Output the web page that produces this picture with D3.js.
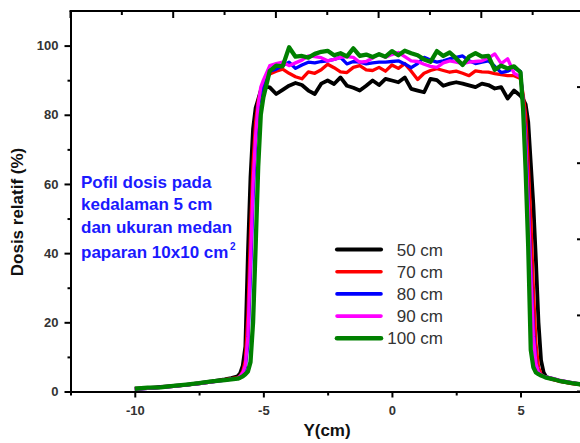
<!doctype html>
<html lang="en">
  <head>
    <meta charset="UTF-8" />
    <title>Profil dosis</title>
    <style>
      body { margin: 0; background: #fff; }
      svg { display: block; font-family: Arial, "Liberation Sans", sans-serif; }
    </style>
  </head>
  <body>
    <div id="target"></div>
    <script src="https://d3js.org/d3.v7.min.js"></script>
    <script>
      /* global d3 */

      // posisi Y (cm), shared by every curve
      const pos = [
        -10, -9.5, -9, -8.5, -8, -7.5, -7, -6.5, -6.25,
        -6, -5.9, -5.8, -5.7, -5.6, -5.5, -5.4, -5.3, -5.2, -5.1, -5,
        -4.75, -4.5, -4.25, -4, -3.75, -3.5, -3.25, -3, -2.75, -2.5, -2.25, -2, -1.75,
        -1.5, -1.25, -1, -0.75, -0.5, -0.25, 0, 0.25, 0.5, 0.75, 1, 1.25, 1.5, 1.75,
        2, 2.25, 2.5, 2.75, 3, 3.25, 3.5, 3.75, 4, 4.25, 4.5, 4.75,
        5, 5.1, 5.2, 5.3, 5.4, 5.5, 5.6, 5.7, 5.8, 5.9, 6,
        6.25, 6.5, 7, 7.5
      ];

      const ssd50 = [
        0.8, 1.0, 1.3, 1.6, 1.9, 2.4, 2.9, 3.5, 3.9,
        4.4, 5.3, 7.5, 13, 40, 62, 76, 82, 84.5, 87, 88.2,
        87.9, 86.0, 87.2, 88.4, 89.2, 88.6, 87.0, 86.0, 89.0, 89.9, 88.9, 90.8, 88.4,
        87.8, 87.0, 88.4, 89.9, 88.6, 90.4, 89.9, 89.4, 90.8, 87.5, 87.0, 86.5, 90.4, 90.0,
        88.4, 89.0, 89.4, 89.0, 88.5, 88.0, 89.0, 88.6, 87.6, 88.0, 84.7, 87.0,
        85.5, 84.5, 83, 78, 66, 54, 38, 20, 9, 5.5, 4.2,
        3.6, 3.1, 2.4, 1.9
      ];
      const ssd70 = [
        0.8, 1.0, 1.2, 1.5, 1.9, 2.3, 2.8, 3.4, 3.7,
        4.0, 4.6, 5.8, 9, 22, 46, 66, 78, 84, 87, 89,
        91.8, 92.6, 93.2, 92.0, 91.0, 90.4, 92.4, 92.0, 93.0, 94.6, 93.6, 92.4, 92.2,
        93.7, 94.2, 93.0, 92.8, 93.7, 92.6, 94.4, 93.4, 94.8, 92.6, 90.2, 92.0, 92.8, 93.3,
        92.8, 92.3, 92.6, 92.0, 91.3, 92.7, 92.4, 92.3, 91.9, 91.6, 91.3, 91.3,
        90.5, 86, 80, 66, 50, 30, 14, 7, 5, 4.4, 4.1,
        3.5, 3.0, 2.3, 1.8
      ];
      const ssd80 = [
        0.7, 0.9, 1.2, 1.5, 1.9, 2.3, 2.8, 3.3, 3.6,
        3.8, 4.3, 5.2, 7, 14, 34, 56, 72, 82, 86, 89,
        92.6, 93.2, 94.2, 95.2, 93.4, 94.4, 95.2, 95.0, 95.4, 95.6, 96.0, 96.6, 94.7,
        95.4, 95.2, 94.7, 95.0, 95.2, 95.2, 95.4, 95.6, 94.7, 93.6, 94.8, 96.6, 95.8, 95.2,
        95.6, 96.2, 96.6, 97.0, 95.6, 94.8, 95.2, 95.6, 94.0, 92.2, 92.6, 93.6,
        92.5, 84, 74, 56, 36, 18, 8, 5.5, 4.8, 4.4, 4.2,
        3.7, 3.2, 2.5, 1.9
      ];
      const ssd90 = [
        0.7, 0.9, 1.2, 1.5, 1.9, 2.3, 2.8, 3.3, 3.6,
        3.8, 4.4, 5.4, 7.5, 16, 38, 60, 74, 83, 88, 90,
        94.2, 94.8, 95.2, 94.2, 95.0, 95.8, 97.0, 96.8, 96.5, 95.6, 96.0, 96.6, 96.8,
        96.6, 95.2, 95.4, 96.4, 97.6, 96.6, 97.4, 98.0, 96.8, 95.6, 95.4, 94.6, 94.0, 93.7,
        95.0, 95.6, 95.2, 94.8, 95.2, 95.4, 95.6, 96.4, 97.6, 94.8, 96.2, 92.0,
        91, 84, 72, 54, 34, 16, 8, 5.6, 4.8, 4.4, 4.2,
        3.8, 3.3, 2.6, 2.0
      ];
      const ssd100 = [
        0.8, 1.1, 1.2, 1.6, 2.0, 2.4, 2.9, 3.3, 3.5,
        3.7, 4.0, 4.4, 5.0, 5.8, 8.5, 20, 42, 65, 80, 85,
        92.7, 94.2, 94.0, 99.5, 96.8, 97.0, 96.5, 97.6, 98.2, 98.5, 97.2, 97.8, 96.9,
        99.2, 97.0, 97.4, 96.7, 97.5, 96.8, 98.4, 97.2, 98.5, 97.8, 97.2, 96.0, 95.3, 98.4,
        97.0, 98.0, 96.3, 94.4, 96.8, 97.8, 96.8, 97.0, 93.0, 94.2, 93.4, 94.0,
        92.3, 82, 64, 42, 12, 7, 5.5, 5.0, 4.6, 4.3, 4.0,
        3.6, 3.1, 2.4, 1.9
      ];

      const seriesNames = ["50 cm", "70 cm", "80 cm", "90 cm", "100 cm"];
      const seriesValues = [ssd50, ssd70, ssd80, ssd90, ssd100];
      const seriesColors = ["#000000", "#ff0000", "#0000ff", "#ff00ff", "#008000"];
      const seriesWidths = [3.8, 3.3, 3.3, 3.3, 4.3];

      const xMajor = [-10, -5, 0, 5];
      const xMinor = [-12.5, -7.5, -2.5, 2.5];
      const yMajor = [0, 20, 40, 60, 80, 100];
      const yMinor = [10, 30, 50, 70, 90];
      const noteLines = ["Pofil dosis pada", "kedalaman 5 cm", "dan ukuran medan", "paparan 10x10 cm"];

      const width = 580,
        height = 443;
      const plot = { left: 70.5, right: 584, top: 11, bottom: 391.5 };

      const svg = d3
        .select("#target")
        .append("svg")
        .attr("width", width)
        .attr("height", height)
        .attr("viewBox", [0, 0, width, height]);

      const x = d3.scaleLinear().domain([-12.5, 7.47]).range([plot.left, plot.right]);
      const y = d3.scaleLinear().domain([0, 110]).range([plot.bottom, plot.top]);
      // the mirrored top/right frame belongs to a neighbouring panel, different spacing
      const xTop = d3.scaleLinear().domain([0, 5]).range([plot.left, plot.right]);
      const yRight = d3.scaleLinear().domain([0, 5]).range([plot.bottom, plot.top]);

      svg
        .append("clipPath")
        .attr("id", "plotClip")
        .append("rect")
        .attr("x", plot.left)
        .attr("y", plot.top)
        .attr("width", plot.right - plot.left)
        .attr("height", plot.bottom - plot.top);

      const line = d3
        .line()
        .x((d, i) => x(pos[i]))
        .y((d) => y(d));

      const gLines = svg.append("g").attr("clip-path", "url(#plotClip)");
      seriesValues.forEach((vals, k) => {
        gLines
          .append("path")
          .attr("d", line(vals))
          .attr("fill", "none")
          .attr("stroke", seriesColors[k])
          .attr("stroke-width", seriesWidths[k])
          .attr("stroke-linejoin", "round");
      });

      // top and right frame ticks
      const frame = svg.append("g").attr("stroke", "#000");
      frame
        .append("line")
        .attr("x1", plot.left - 1)
        .attr("x2", width)
        .attr("y1", plot.top)
        .attr("y2", plot.top)
        .attr("stroke-width", 2);
      d3.range(0, 5.01, 0.5).forEach((t) => {
        const major = Number.isInteger(t);
        frame
          .append("line")
          .attr("x1", xTop(t))
          .attr("x2", xTop(t))
          .attr("y1", plot.top)
          .attr("y2", plot.top + (major ? 7 : 4))
          .attr("stroke-width", 2);
        frame
          .append("line")
          .attr("x1", plot.right)
          .attr("x2", plot.right - (major ? 7 : 4))
          .attr("y1", yRight(t))
          .attr("y2", yRight(t))
          .attr("stroke-width", 2);
      });

      const styleAxis = (g) => {
        g.select(".domain").attr("stroke-width", 2);
        g.selectAll(".tick line").attr("stroke-width", 2);
        g.selectAll("text")
          .attr("fill", "#333")
          .style("font-size", "13px")
          .style("font-weight", "bold");
      };

      svg
        .append("g")
        .attr("transform", `translate(0,${plot.bottom})`)
        .call(d3.axisBottom(x).tickValues(xMajor).tickSize(6).tickSizeOuter(0).tickPadding(8).tickFormat((d) => String(d)))
        .call(styleAxis);
      svg
        .append("g")
        .attr("transform", `translate(0,${plot.bottom})`)
        .call(d3.axisBottom(x).tickValues(xMinor).tickSize(4).tickFormat(""))
        .call((g) => g.select(".domain").remove())
        .call(styleAxis);

      svg
        .append("g")
        .attr("transform", `translate(${plot.left},0)`)
        .call(d3.axisLeft(y).tickValues(yMajor).tickSize(6).tickSizeOuter(0).tickPadding(6).tickFormat(d3.format("d")))
        .call(styleAxis);
      svg
        .append("g")
        .attr("transform", `translate(${plot.left},0)`)
        .call(d3.axisLeft(y).tickValues(yMinor).tickSize(3).tickFormat(""))
        .call((g) => g.select(".domain").remove())
        .call(styleAxis);

      svg
        .append("text")
        .attr("x", 327)
        .attr("y", 436)
        .attr("text-anchor", "middle")
        .attr("font-size", 17)
        .attr("font-weight", "bold")
        .attr("fill", "#111")
        .text("Y(cm)");

      svg
        .append("text")
        .attr("transform", "translate(23,212) rotate(-90)")
        .attr("text-anchor", "middle")
        .attr("font-size", 17)
        .attr("font-weight", "bold")
        .attr("fill", "#111")
        .text("Dosis relatif (%)");

      const note = svg
        .append("g")
        .attr("fill", "#1a1aff")
        .attr("font-size", 17)
        .attr("font-weight", "bold");
      const noteY = [187.5, 210, 233, 258];
      noteLines.forEach((t, i) => {
        note.append("text").attr("x", 81).attr("y", noteY[i]).text(t);
      });
      note
        .append("text")
        .attr("x", 230)
        .attr("y", 250)
        .attr("font-size", 10)
        .text("2");

      const legend = svg.append("g");
      seriesNames.forEach((name, k) => {
        const cy = 249.5 + k * 22.2;
        legend
          .append("line")
          .attr("x1", 337)
          .attr("x2", 381)
          .attr("y1", cy)
          .attr("y2", cy)
          .attr("stroke", seriesColors[k])
          .attr("stroke-width", seriesWidths[k] + 0.3)
          .attr("stroke-linecap", "round");
        legend
          .append("text")
          .attr("x", 443)
          .attr("y", cy + 6)
          .attr("text-anchor", "end")
          .attr("font-size", 17)
          .attr("fill", "#333")
          .text(name);
      });
    </script>
  </body>
</html>
